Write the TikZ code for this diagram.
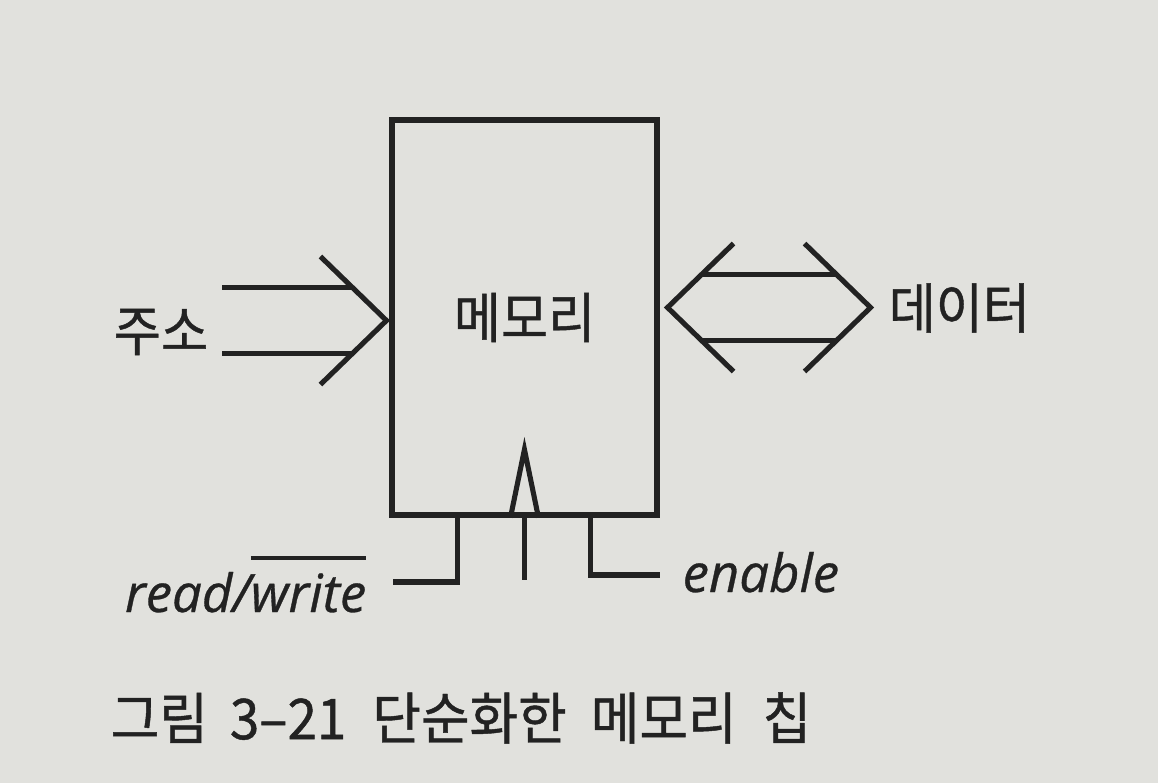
\documentclass[tikz,border=0pt]{standalone}
\usepackage{fontspec}
\usepackage{tikz}
\usetikzlibrary{calc,positioning}
\newfontfamily\krfont[FakeStretch=0.94,FakeBold=0.8]{Noto Sans CJK KR}
\newfontfamily\latfont[FakeBold=0.6]{Open Sans}
\definecolor{ink}{RGB}{34,34,34}
\definecolor{paper}{RGB}{225,225,221}
\newcommand{\barred}[1]{\leavevmode\vbox{\hrule height 1pt\kern 3.8pt\hbox{#1}}}

\begin{document}
\begin{tikzpicture}[x=0.1mm, y=-0.1mm, font=\krfont\fontsize{15.5}{18}\selectfont, ink]
  \tikzset{wire/.style={line width=1.45pt}, sig/.style={inner sep=0pt, font=\latfont\itshape\fontsize{15}{18}\selectfont}}
  \fill[paper] (0,0) rectangle (1158,783);
  \useasboundingbox (0,0) rectangle (1158,783);
  % ---- the chip ----
  \node[draw, line width=1.45pt, minimum width=26.5mm, minimum height=39.5mm, inner sep=0pt] (mem) at (524.5,317.5) {메모리};
  % ---- address in ----
  \node (addr) at (161,332) {주소};
  \coordinate (atip) at ($(mem.west)+(-3,3)$);
  \foreach \s in {-1,1}
    \draw[wire] ($(atip)+(-164,\s*33)$) -- ($(atip)+(-34,\s*33)$);
  \draw[wire] ($(atip)+(-66,-64)$) -- (atip) -- ($(atip)+(-66,64)$);
  % ---- data, both ways ----
  \coordinate (dl) at ($(mem.east)+(8,-10)$);
  \coordinate (dr) at ($(dl)+(203,0)$);
  \foreach \s in {-1,1}
    \draw[wire] ($(dl)+(34,\s*33)$) -- ($(dr)+(-34,\s*33)$);
  \draw[wire] ($(dl)+(66,-64)$) -- (dl) -- ($(dl)+(66,64)$);
  \draw[wire] ($(dr)+(-66,-64)$) -- (dr) -- ($(dr)+(-66,64)$);
  \node[anchor=west, inner sep=0pt] (data) at (888,308) {데이터};
  % ---- control lines ----
  \node[sig, anchor=base east] (rw) at (367,612) {read/\barred{write}};
  \node[sig, anchor=base west] (en) at (682,592) {enable};
  \coordinate (rwend) at (393,582);
  \coordinate (enend) at (660,575);
  \draw[wire] ($(mem.south west)+(68,0)$) |- (rwend);
  \draw[wire] ($(mem.south west)+(201,0)$) |- (enend);
  \draw[wire] ($(mem.south west)+(135,62)$) -- ($(mem.south west)+(135,0)$);
  \draw[wire] ($(mem.south west)+(121,0)$) -- ($(mem.south west)+(135,-68)$) -- ($(mem.south west)+(149,0)$);
  % ---- caption ----
  \node[anchor=west, inner sep=0pt, font=\krfont\fontsize{16}{19}\selectfont] (cap) at (110,718) {그림\hspace{2.2mm}3–21\hspace{2.6mm}단순화한\hspace{2.4mm}메모리\hspace{2.6mm}칩};
\end{tikzpicture}
\end{document}
